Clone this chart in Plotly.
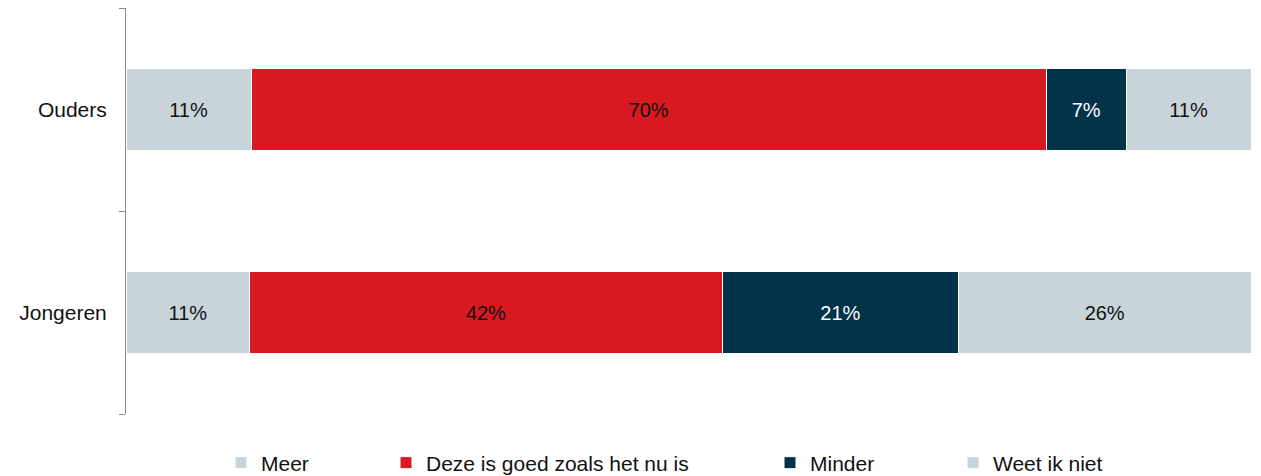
import plotly.graph_objects as go

categories = ["Ouders", "Jongeren"]
series_names = ["Meer", "Deze is goed zoals het nu is", "Minder", "Weet ik niet"]
meer = [11, 11]
goed = [70, 42]
minder = [7, 21]
weet = [11, 26]
values = [meer, goed, minder, weet]

colors = ["#C8D4DA", "#D71920", "#00324A", "#C8D4DA"]
text_colors = ["#111111", "#111111", "#FFFFFF", "#111111"]
legend_ids = ["legend", "legend2", "legend3", "legend4"]
legend_sym_x = [240, 405, 789, 972]

FONT = "Liberation Sans, Arial, sans-serif"
W, H = 1261, 476
L, R, T, B = 126, 10, 8, 62
PW, PH = W - L - R, H - T - B

fig = go.Figure()
for name, vals, col, tcol, lid in zip(series_names, values, colors, text_colors, legend_ids):
    fig.add_trace(go.Bar(
        name=name,
        y=categories,
        x=vals,
        orientation="h",
        marker=dict(color=col, line=dict(color="#FFFFFF", width=1)),
        text=[f"{v}%" for v in vals],
        texttemplate="%{text}",
        textposition="inside",
        insidetextanchor="middle",
        textfont=dict(color=tcol, size=20, family=FONT),
        hoverinfo="skip",
        legend=lid,
    ))

layout_legends = {}
for lid, lx in zip(legend_ids, legend_sym_x):
    layout_legends[lid] = dict(
        x=(lx - 19 - L) / PW, y=(T + PH - 463) / PH, xref="paper", yref="paper",
        xanchor="left", yanchor="middle",
        orientation="h",
        font=dict(size=21, family=FONT, color="#111111"),
        bgcolor="rgba(0,0,0,0)",
        itemclick=False, itemdoubleclick=False,
    )

fig.update_layout(
    width=W, height=H,
    barmode="stack",
    barnorm="percent",
    bargap=0.6,
    margin=dict(l=L, r=R, t=T, b=B, autoexpand=False),
    paper_bgcolor="white",
    plot_bgcolor="white",
    font=dict(family=FONT, size=21, color="#111111"),
    showlegend=True,
    xaxis=dict(visible=False, range=[0, 100], fixedrange=True),
    yaxis=dict(
        categoryorder="array",
        categoryarray=["Jongeren", "Ouders"],
        showline=True, linecolor="#8C8C8C", linewidth=1,
        ticks="outside", tickson="boundaries", ticklen=6, tickcolor="#8C8C8C",
        showgrid=False, zeroline=False,
        tickfont=dict(size=21, family=FONT, color="#111111"),
        ticklabelstandoff=14,
        fixedrange=True,
    ),
    **layout_legends,
)

fig.write_html(
    "out.html",
    config={"displayModeBar": False},
    post_script="document.body.style.margin='0px';document.body.style.overflow='hidden';",
)
